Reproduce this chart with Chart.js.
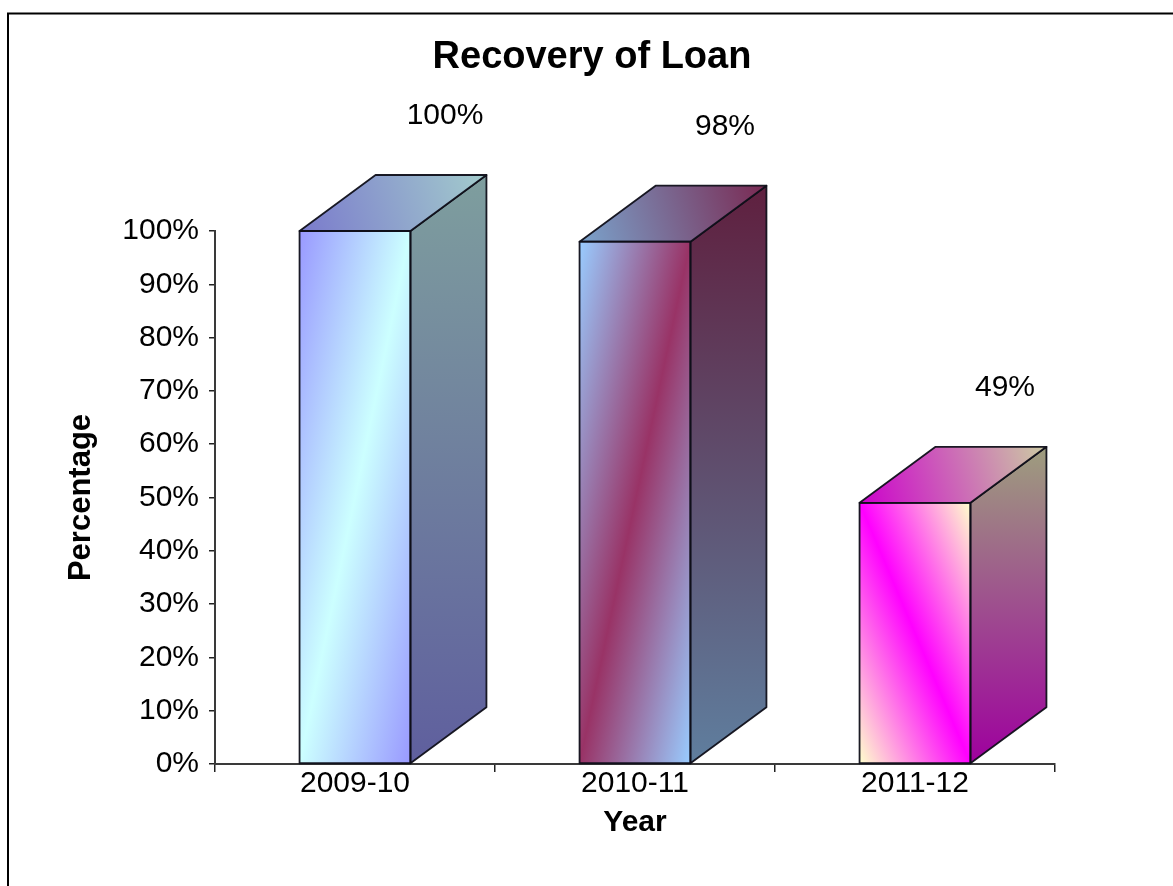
<!DOCTYPE html>
<html>
<head>
<meta charset="utf-8">
<script src="https://cdn.jsdelivr.net/npm/chart.js@4/dist/chart.umd.min.js"></script>
<style>
  html, body { margin: 0; padding: 0; background: #ffffff; }
  #wrap { width: 1173px; height: 886px; }
</style>
</head>
<body>
<div id="wrap"><canvas id="chart" width="1173" height="886"></canvas></div>
<script>
// Loan recovery rate per financial year
const years = ['2009-10', '2010-11', '2011-12'];
const recovery = [100, 98, 49];
const percentTicks = [0, 10, 20, 30, 40, 50, 60, 70, 80, 90, 100];

// Two-colour diagonal fills for each column
const cornerColors = ['#9999ff', '#99ccff', '#ff00ff'];
const bandColors = ['#ccffff', '#993366', '#ffffcc'];
const bandDirections = ['up', 'up', 'down'];

const FONT = '"Liberation Sans", Arial, Helvetica, sans-serif';
const DEPTH_X = 76;
const DEPTH_Y = -56;

function shade(hex, f) {
  const n = parseInt(hex.slice(1), 16);
  const r = Math.round(((n >> 16) & 255) * f);
  const g = Math.round(((n >> 8) & 255) * f);
  const b = Math.round((n & 255) * f);
  return `rgb(${r},${g},${b})`;
}

// White page with a framed border
const framePlugin = {
  id: 'frame',
  beforeDraw(chart) {
    const ctx = chart.ctx;
    ctx.save();
    ctx.fillStyle = '#ffffff';
    ctx.fillRect(0, 0, chart.width, chart.height);
    ctx.strokeStyle = '#000000';
    ctx.lineWidth = 2;
    ctx.strokeRect(8, 13.5, chart.width + 20, chart.height + 20);
    ctx.restore();
  }
};

// Draws each bar element as a shaded box with a top and side face
const boxPlugin = {
  id: 'box3d',
  afterDatasetsDraw(chart) {
    const ctx = chart.ctx;
    const meta = chart.getDatasetMeta(0);
    meta.data.forEach((el, i) => {
      const p = el.getProps(['x', 'y', 'base', 'width'], true);
      const l = p.x - p.width / 2, r = p.x + p.width / 2;
      const t = p.y, b = p.base, w = p.width, h = b - t;
      const A = cornerColors[i], B = bandColors[i];
      ctx.save();
      ctx.lineJoin = 'round';

      // front face: gradient laid out in the face's own unit square
      ctx.save();
      ctx.translate(l, t);
      ctx.scale(w, h);
      let g;
      if (bandDirections[i] === 'up') {
        g = ctx.createLinearGradient(0, 0, 1, 1);
        g.addColorStop(0, A); g.addColorStop(0.5, B); g.addColorStop(1, A);
      } else {
        g = ctx.createLinearGradient(0, 1, 1, 0);
        g.addColorStop(0, B); g.addColorStop(0.5, A); g.addColorStop(1, B);
      }
      ctx.fillStyle = g;
      ctx.fillRect(0, 0, 1, 1);
      ctx.restore();

      ctx.strokeStyle = 'rgba(15,15,25,0.95)';
      ctx.lineWidth = 1.8;

      // side face
      ctx.beginPath();
      ctx.moveTo(r, t);
      ctx.lineTo(r + DEPTH_X, t + DEPTH_Y);
      ctx.lineTo(r + DEPTH_X, b + DEPTH_Y);
      ctx.lineTo(r, b);
      ctx.closePath();
      g = ctx.createLinearGradient(0, t + DEPTH_Y, 0, b);
      g.addColorStop(0, shade(B, 0.62));
      g.addColorStop(1, shade(A, 0.62));
      ctx.fillStyle = g;
      ctx.fill();
      ctx.stroke();

      // top face
      ctx.beginPath();
      ctx.moveTo(l, t);
      ctx.lineTo(l + DEPTH_X, t + DEPTH_Y);
      ctx.lineTo(r + DEPTH_X, t + DEPTH_Y);
      ctx.lineTo(r, t);
      ctx.closePath();
      g = ctx.createLinearGradient(l, t, r + DEPTH_X, t + DEPTH_Y);
      g.addColorStop(0, shade(A, 0.8));
      g.addColorStop(1, shade(B, 0.8));
      ctx.fillStyle = g;
      ctx.fill();
      ctx.stroke();

      ctx.strokeRect(l, t, w, h);

      // value label above the box
      ctx.fillStyle = '#000000';
      ctx.font = `30px ${FONT}`;
      ctx.textAlign = 'center';
      ctx.textBaseline = 'middle';
      ctx.fillText(recovery[i] + '%', p.x + 90, t - 115);
      ctx.restore();
    });
  }
};

new Chart(document.getElementById('chart'), {
  type: 'bar',
  data: {
    labels: years,
    datasets: [{
      label: 'Recovery',
      data: recovery,
      backgroundColor: 'rgba(0,0,0,0)',
      borderWidth: 0,
      categoryPercentage: 1,
      barPercentage: 0.396
    }]
  },
  options: {
    responsive: false,
    devicePixelRatio: 1,
    animation: false,
    layout: { padding: { top: 0, left: 11, right: 0, bottom: 0 } },
    plugins: {
      legend: { display: false },
      tooltip: { enabled: false },
      title: {
        display: true,
        text: 'Recovery of Loan',
        color: '#000000',
        font: { family: FONT, size: 38, weight: 'bold' },
        padding: { top: 35.2, bottom: 150.2 }
      }
    },
    scales: {
      x: {
        grid: { offset: true, drawOnChartArea: false, drawTicks: true, tickLength: 8, color: '#222222', lineWidth: 1.5 },
        border: { display: true, color: '#3a3a3a', width: 2 },
        ticks: { color: '#000000', font: { family: FONT, size: 30 }, padding: -6 },
        title: {
          display: true, text: 'Year', color: '#000000',
          font: { family: FONT, size: 30, weight: 'bold' },
          padding: { top: 0, bottom: 45 }
        },
        afterFit(scale) { scale.height = 122; }
      },
      y: {
        min: 0,
        max: 100,
        afterBuildTicks(scale) { scale.ticks = percentTicks.map(v => ({ value: v })); },
        grid: { drawOnChartArea: false, drawTicks: true, tickLength: 6, color: '#222222', lineWidth: 1.5 },
        border: { display: true, color: '#3a3a3a', width: 2 },
        ticks: { color: '#000000', font: { family: FONT, size: 30 }, padding: 10, callback: v => v + '%' },
        title: {
          display: true, text: 'Percentage', color: '#000000',
          font: { family: FONT, size: 31, weight: 'bold' },
          padding: { top: 52, bottom: 0 }
        },
        afterFit(scale) { scale.width = 204; }
      },
      // blank right-hand margin beside the plot
      yMargin: {
        position: 'right',
        min: 0,
        max: 100,
        grid: { display: false },
        border: { display: false },
        ticks: { display: false },
        afterFit(scale) { scale.width = 118; }
      }
    }
  },
  plugins: [framePlugin, boxPlugin]
});
</script>
</body>
</html>
